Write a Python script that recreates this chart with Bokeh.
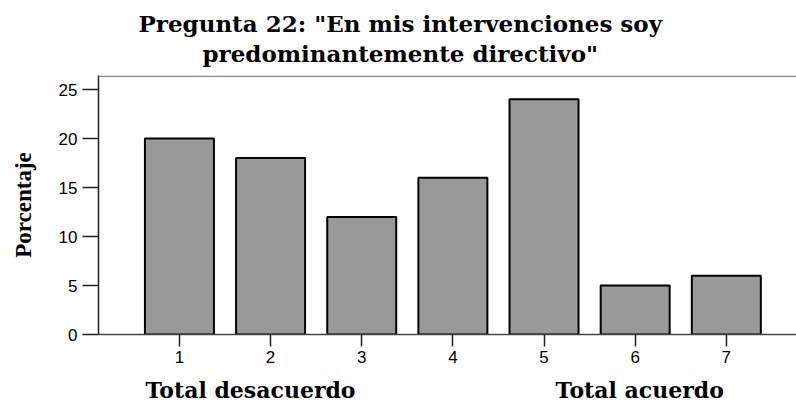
from bokeh.plotting import figure
from bokeh.models import ColumnDataSource, FixedTicker, LinearAxis, Range1d, Span
from bokeh.embed import file_html
from bokeh.resources import INLINE

categories = [1, 2, 3, 4, 5, 6, 7]
percentages = [20, 18, 12, 16, 24, 5, 6]
y_ticks = [0, 5, 10, 15, 20, 25]
title_lines = ['Pregunta 22: "En mis intervenciones soy', 'predominantemente directivo"']
title_position = 3.423
y_label = "Porcentaje"
note_positions = [1.78, 6.05]
note_texts = ["Total desacuerdo", "Total acuerdo"]

Y_END = 26.43
src = ColumnDataSource(dict(x=categories, y=percentages))

p = figure(width=796, height=406, output_backend="svg", toolbar_location=None,
           x_range=Range1d(0.112, 7.77), y_range=Range1d(0, Y_END),
           min_border_left=98, min_border_right=0, min_border_top=75, min_border_bottom=72)
p.title.visible = False
p.grid.visible = False
p.outline_line_color = None
p.background_fill_color = "white"
p.border_fill_color = "white"

p.vbar(x="x", top="y", width=0.757, source=src, fill_color="#999999",
       line_color="black", line_width=2)

p.add_layout(Span(location=Y_END - 0.07, dimension="width", line_color="#888888", line_width=1.5))

serif = "DejaVu Serif"
sans = "Liberation Sans"


def text_axis(ticks, labels, size, standoff):
    return LinearAxis(ticker=FixedTicker(ticks=ticks),
                      major_label_overrides=dict(zip(ticks, labels)),
                      axis_line_color=None, major_tick_line_color=None,
                      minor_tick_line_color=None, major_tick_in=0, major_tick_out=0,
                      major_label_text_font=serif, major_label_text_font_style="bold",
                      major_label_text_font_size=size, major_label_text_color="black",
                      major_label_standoff=standoff)


xa = p.xaxis[0]
xa.ticker = FixedTicker(ticks=categories)
xa.minor_tick_line_color = None
xa.major_tick_in = 0
xa.major_tick_out = 12
xa.major_tick_line_width = 1.5
xa.major_tick_line_color = "#222222"
xa.axis_line_color = "#444444"
xa.axis_line_width = 1.5
xa.major_label_text_font = sans
xa.major_label_text_font_size = "17px"
xa.major_label_text_color = "black"
xa.major_label_standoff = 4

p.add_layout(text_axis(note_positions, note_texts, "22px", 11), "below")

# title lines as label-only axes above the frame; the first added sits closest
p.add_layout(text_axis([title_position], [title_lines[1]], "23px", 9), "above")
p.add_layout(text_axis([title_position], [title_lines[0]], "23px", 0), "above")

ya = p.yaxis[0]
ya.ticker = FixedTicker(ticks=y_ticks)
ya.minor_tick_line_color = None
ya.major_tick_in = 0
ya.major_tick_out = 16
ya.major_tick_line_width = 1.5
ya.major_tick_line_color = "#222222"
ya.axis_line_color = "#222222"
ya.axis_line_width = 1.5
ya.major_label_text_font = sans
ya.major_label_text_font_size = "17px"
ya.major_label_text_color = "black"
ya.major_label_standoff = 5
ya.axis_label = y_label
ya.axis_label_text_font = "Liberation Serif"
ya.axis_label_text_font_style = "bold"
ya.axis_label_text_font_size = "23px"
ya.axis_label_text_color = "black"
ya.axis_label_standoff = 20

open("out.html", "w").write(file_html(p, INLINE))
